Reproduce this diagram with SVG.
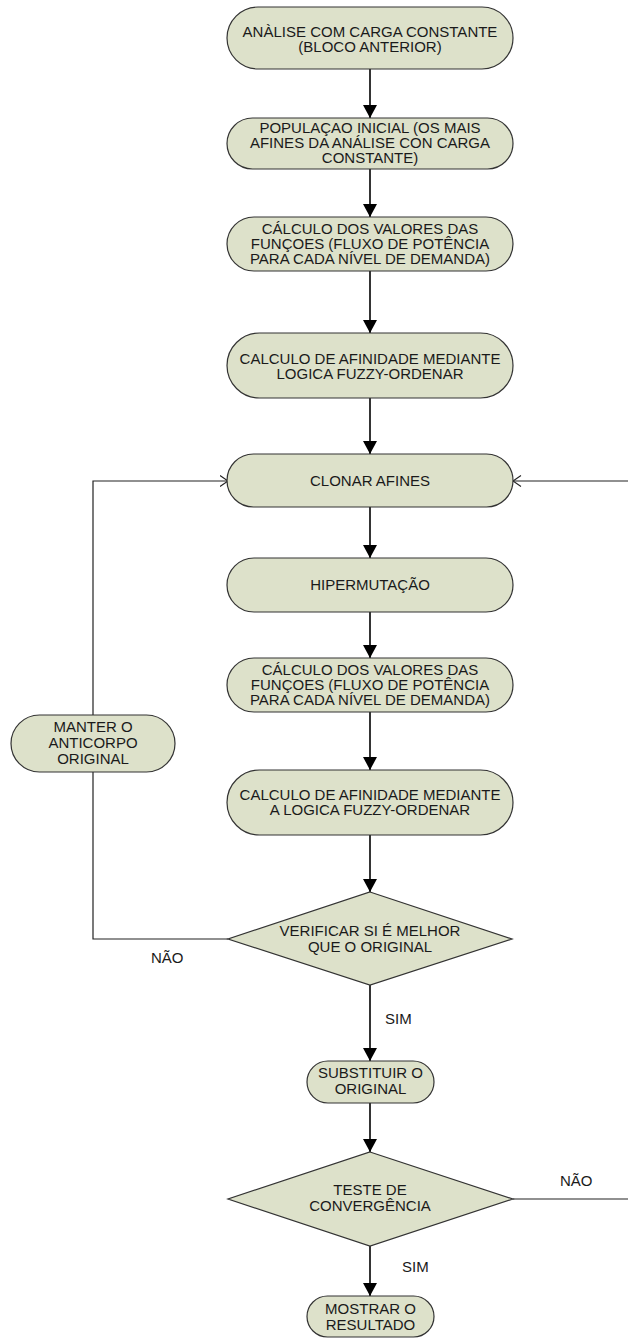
<svg xmlns="http://www.w3.org/2000/svg" width="628" height="1338" viewBox="0 0 628 1338">
  <style>
    .box { fill: #dde1ca; stroke: #333333; stroke-width: 1.2; }
    .t { font-family: "Liberation Sans", Arial, sans-serif; font-size: 15px; fill: #1a1a1a; text-anchor: middle; }
    .lbl { font-family: "Liberation Sans", Arial, sans-serif; font-size: 15px; fill: #1a1a1a; }
    .flow { fill: none; stroke: #111111; stroke-width: 1.7; marker-end: url(#arrow); }
    .loop { fill: none; stroke: #222222; stroke-width: 1.2; }
  </style>
  <defs>
    <marker id="arrow" markerUnits="userSpaceOnUse" markerWidth="14" markerHeight="14" refX="13" refY="7" orient="auto">
      <path d="M0,0 L13,7 L0,14 z" fill="#000000"/>
    </marker>
    <marker id="open" markerUnits="userSpaceOnUse" markerWidth="10" markerHeight="12" refX="8.5" refY="6" orient="auto">
      <path d="M0.5,0.5 L8.5,6 L0.5,11.5" fill="none" stroke="#222222" stroke-width="1.1"/>
    </marker>
  </defs>

  <rect width="628" height="1338" fill="#ffffff"/>

  <g id="connectors">
    <path class="flow" d="M370,69 V118"/>
    <path class="flow" d="M370,169 V217"/>
    <path class="flow" d="M370,271 V333"/>
    <path class="flow" d="M370,398 V454"/>
    <path class="flow" d="M370,507 V558"/>
    <path class="flow" d="M370,612 V658"/>
    <path class="flow" d="M370,712 V770"/>
    <path class="flow" d="M370,835 V892"/>
    <path class="flow" d="M370,985 V1061"/>
    <path class="flow" d="M370,1103 V1152"/>
    <path class="flow" d="M370,1246 V1296"/>
    <path class="loop" d="M228,939 H93 V772"/>
    <path class="loop" d="M93,715 V481 H228" marker-end="url(#open)"/>
    <path class="loop" d="M513,1199 H640 V481 H513" marker-end="url(#open)"/>
    <text class="lbl" x="151" y="963">NÃO</text>
    <text class="lbl" x="385" y="1024">SIM</text>
    <text class="lbl" x="560" y="1186">NÃO</text>
    <text class="lbl" x="402" y="1272">SIM</text>
  </g>

  <g id="analise">
    <rect class="box" x="227" y="7" width="286" height="62" rx="31"/>
    <text class="t" x="370" y="37">ANÀLISE COM CARGA CONSTANTE</text>
    <text class="t" x="370" y="52">(BLOCO ANTERIOR)</text>
  </g>

  <g id="populacao">
    <rect class="box" x="227" y="118" width="286" height="51" rx="25.5"/>
    <text class="t" x="370" y="133">POPULAÇAO INICIAL (OS MAIS</text>
    <text class="t" x="370" y="148">AFINES DA ANÁLISE CON CARGA</text>
    <text class="t" x="370" y="163">CONSTANTE)</text>
  </g>

  <g id="calculo1">
    <rect class="box" x="227" y="217" width="286" height="54" rx="27"/>
    <text class="t" x="370" y="234">CÁLCULO DOS VALORES DAS</text>
    <text class="t" x="370" y="249">FUNÇOES (FLUXO DE POTÊNCIA</text>
    <text class="t" x="370" y="264">PARA CADA NÍVEL DE DEMANDA)</text>
  </g>

  <g id="afinidade1">
    <rect class="box" x="227" y="333" width="286" height="65" rx="32.5"/>
    <text class="t" x="370" y="364">CALCULO DE AFINIDADE MEDIANTE</text>
    <text class="t" x="370" y="379">LOGICA FUZZY-ORDENAR</text>
  </g>

  <g id="clonar">
    <rect class="box" x="227" y="454" width="286" height="53" rx="26.5"/>
    <text class="t" x="370" y="486">CLONAR AFINES</text>
  </g>

  <g id="hipermutacao">
    <rect class="box" x="227" y="558" width="286" height="54" rx="27"/>
    <text class="t" x="370" y="590">HIPERMUTAÇÃO</text>
  </g>

  <g id="calculo2">
    <rect class="box" x="227" y="658" width="286" height="54" rx="27"/>
    <text class="t" x="370" y="675">CÁLCULO DOS VALORES DAS</text>
    <text class="t" x="370" y="690">FUNÇOES (FLUXO DE POTÊNCIA</text>
    <text class="t" x="370" y="705">PARA CADA NÍVEL DE DEMANDA)</text>
  </g>

  <g id="afinidade2">
    <rect class="box" x="227" y="770" width="286" height="65" rx="32.5"/>
    <text class="t" x="370" y="800">CALCULO DE AFINIDADE MEDIANTE</text>
    <text class="t" x="370" y="815">A LOGICA FUZZY-ORDENAR</text>
  </g>

  <g id="manter">
    <rect class="box" x="11" y="715" width="164" height="57" rx="28.5"/>
    <text class="t" x="93" y="732">MANTER O</text>
    <text class="t" x="93" y="748">ANTICORPO</text>
    <text class="t" x="93" y="764">ORIGINAL</text>
  </g>

  <g id="verificar">
    <polygon class="box" points="370,892 512,939 370,985 228,939"/>
    <text class="t" x="370" y="936">VERIFICAR SI É MELHOR</text>
    <text class="t" x="370" y="952">QUE O ORIGINAL</text>
  </g>

  <g id="substituir">
    <rect class="box" x="307" y="1061" width="127" height="42" rx="21"/>
    <text class="t" x="370.5" y="1078">SUBSTITUIR O</text>
    <text class="t" x="370.5" y="1094">ORIGINAL</text>
  </g>

  <g id="convergencia">
    <polygon class="box" points="370,1152 513,1199 370,1246 228,1199"/>
    <text class="t" x="370" y="1195">TESTE DE</text>
    <text class="t" x="370" y="1211">CONVERGÊNCIA</text>
  </g>

  <g id="mostrar">
    <rect class="box" x="307" y="1296" width="127" height="41" rx="20.5"/>
    <text class="t" x="370.5" y="1314">MOSTRAR O</text>
    <text class="t" x="370.5" y="1330">RESULTADO</text>
  </g>
</svg>
